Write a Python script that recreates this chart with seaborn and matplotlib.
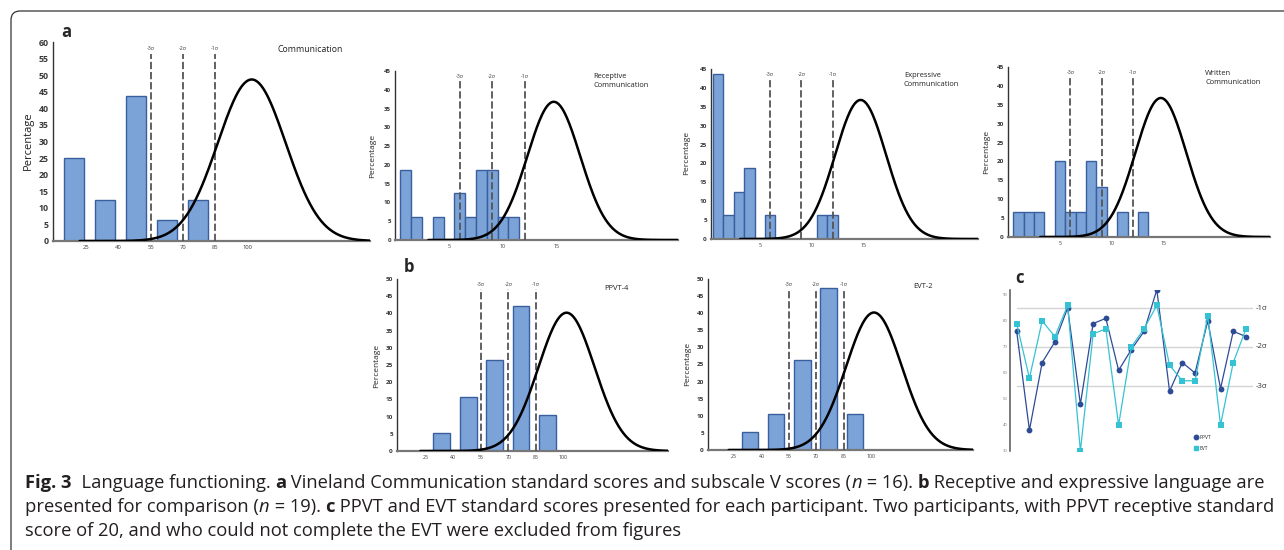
import numpy as np
import matplotlib
matplotlib.use("Agg")
import matplotlib.pyplot as plt
from matplotlib.lines import Line2D
from matplotlib.patches import FancyBboxPatch
from matplotlib.transforms import IdentityTransform
import seaborn as sns

# ---- data ----
# panel a: Vineland standard scores (n = 16), bars on a 14.4 point grid
comm_x = [19.3, 33.7, 48.1, 62.5, 76.9]
comm_pct = [25, 12.5, 43.75, 6.25, 12.5]
# subscale V scores
rec_x = [1, 2, 4, 6, 7, 8, 9, 10, 11]
rec_pct = [18.75, 6.25, 6.25, 12.5, 6.25, 18.75, 18.75, 6.25, 6.25]
exp_x = [1, 2, 3, 4, 6, 11, 12]
exp_pct = [43.75, 6.25, 12.5, 18.75, 6.25, 6.25, 6.25]
wri_x = [1, 2, 3, 5, 6, 7, 8, 9, 11, 13]
wri_pct = [6.67, 6.67, 6.67, 20, 6.67, 6.67, 20, 13.33, 6.67, 6.67]
# panel b (n = 19)
ppvt_x = [33.7, 48.1, 62.5, 76.9, 91.3]
ppvt_pct = [5.26, 15.79, 26.32, 42.11, 10.53]
evt_x = [33.7, 48.1, 62.5, 76.9, 91.3]
evt_pct = [5.26, 10.53, 26.32, 47.37, 10.53]
# panel c: per participant standard scores
participants = list(range(1, 20))
ppvt_scores = [76, 38, 64, 72, 85, 48, 79, 81, 61, 69, 76, 92, 53, 64, 60, 80, 54, 76, 74]
evt_scores = [79, 58, 80, 74, 86, 30, 75, 77, 40, 70, 77, 86, 63, 57, 57, 82, 40, 64, 77]

std_ticks = [25, 40, 55, 70, 85, 100]
v_ticks = [5, 10, 15]
std_sigma = [55, 70, 85]
v_sigma = [6, 9, 12]
sigma_labels = ["-3σ", "-2σ", "-1σ"]

# reference normal curves: mean, sd, peak height, start of drawn curve
comm_curve = (102, 15.8, 48.7, 22)
v_curve = (14.7, 2.45, 36.8, 3.1)
b_curve = (101.7, 15.3, 40.2, 22)

BAR = "#7ba3d8"
EDGE = "#3a5f9f"
TXT = "#3a3a3a"
W, H = 1284, 550

sns.set_style("white")
plt.rcParams["font.family"] = ["Open Sans", "DejaVu Sans"]

fig = plt.figure(figsize=(W / 100, H / 100), dpi=100)


def box(l, t, r, b):
    return [l / W, 1 - b / H, (r - l) / W, (b - t) / H]


def ftext(x, y, s, **kw):
    return fig.text(x / W, 1 - y / H, s, **kw)


def hist_panel(rect, xs, pct, width, xlim, ylim, ystep, xticks, sig_x, curve,
               ysize, xsize):
    ax = fig.add_axes(box(*rect))
    sns.barplot(x=xs, y=pct, native_scale=True, orient="x", width=width,
                color=BAR, saturation=1, edgecolor=EDGE, linewidth=1,
                errorbar=None, ax=ax, zorder=2)
    for xv, lab in zip(sig_x, sigma_labels):
        ax.axvline(xv, ymin=0, ymax=0.94, color="#555555", lw=1.3,
                   ls=(0, (4, 1.6)), zorder=3)
        ax.text(xv, ylim[1] * 0.968, lab, ha="center", va="center",
                fontsize=3.8, color=TXT)
    mu, sd, peak, start = curve
    gx = np.linspace(start, xlim[1], 300)
    sns.lineplot(x=gx, y=peak * np.exp(-0.5 * ((gx - mu) / sd) ** 2),
                 color="black", lw=1.8, ax=ax, zorder=4)
    ax.set_xlim(*xlim)
    ax.set_ylim(*ylim)
    ax.set_yticks(np.arange(0, ylim[1] + 0.1, ystep))
    ax.set_xticks(xticks)
    ax.set_xticklabels([str(t) for t in xticks])
    ax.tick_params(axis="y", length=2, width=0.8, pad=1, labelsize=ysize,
                   colors=TXT)
    ax.tick_params(axis="x", length=0, pad=3, labelsize=xsize, colors=TXT)
    for lab in ax.get_yticklabels():
        lab.set_fontweight("bold")
    ax.set_xlabel("")
    ax.set_ylabel("")
    for side in ["top", "right"]:
        ax.spines[side].set_visible(False)
    ax.spines["left"].set_color("#333333")
    ax.spines["left"].set_linewidth(1.0)
    ax.spines["bottom"].set_color("#777777")
    ax.spines["bottom"].set_linewidth(1.6)
    ax.set_facecolor("none")
    return ax


# panel a
hist_panel((53, 42, 370, 241), comm_x, comm_pct, 0.645, (9.6, 157), (0, 60), 5,
           std_ticks, std_sigma, comm_curve, 6.3, 4.2)
ftext(277, 50, "Communication", fontsize=6.3, va="center", color="#222222")
ftext(28, 141, "Percentage", fontsize=8, rotation=90, ha="center", va="center",
      color="#222222")

hist_panel((395, 71, 678, 240), rec_x, rec_pct, 1.0, (0, 26.2), (0, 45), 5,
           v_ticks, v_sigma, v_curve, 4.4, 3.8)
ftext(593, 81, "Receptive\nCommunication", fontsize=5.4, va="center",
      linespacing=1.35, color="#222222")
ftext(373, 156, "Percentage", fontsize=6, rotation=90, ha="center", va="center",
      color="#222222")

hist_panel((711, 69, 978, 239), exp_x, exp_pct, 1.0, (0.3, 26), (0, 45), 5,
           v_ticks, v_sigma, v_curve, 4.6, 3.8)
ftext(904, 80, "Expressive\nCommunication", fontsize=5.4, va="center",
      linespacing=1.35, color="#222222")
ftext(687, 153, "Percentage", fontsize=6, rotation=90, ha="center", va="center",
      color="#222222")

hist_panel((1008, 67, 1270, 237), wri_x, wri_pct, 1.0, (0, 25.2), (0, 45), 5,
           v_ticks, v_sigma, v_curve, 4.6, 3.8)
ftext(1205, 78, "Written\nCommunication", fontsize=5.4, va="center",
      linespacing=1.35, color="#222222")
ftext(987, 152, "Percentage", fontsize=6, rotation=90, ha="center", va="center",
      color="#222222")

# panel b
hist_panel((397, 279, 668, 451), ppvt_x, ppvt_pct, 0.63, (9.3, 157), (0, 50), 5,
           std_ticks, std_sigma, b_curve, 4.6, 3.8)
ftext(604, 288, "PPVT-4", fontsize=5.4, va="center", color="#222222")
ftext(377, 366, "Percentage", fontsize=6, rotation=90, ha="center", va="center",
      color="#222222")

hist_panel((708, 279, 973, 450), evt_x, evt_pct, 0.63, (10.7, 156), (0, 50), 5,
           std_ticks, std_sigma, b_curve, 4.6, 3.8)
ftext(913, 287, "EVT-2", fontsize=5.4, va="center", color="#222222")
ftext(688, 364, "Percentage", fontsize=6, rotation=90, ha="center", va="center",
      color="#222222")

# panel c
PPVT_C = "#2e4b96"
EVT_C = "#35c3d3"
axc = fig.add_axes(box(1010, 290, 1253, 451))
for v in std_sigma:
    axc.axhline(v, xmin=0.03, xmax=1, color="#d4d4d4", lw=1, zorder=1)
sns.lineplot(x=participants, y=ppvt_scores, color=PPVT_C, marker="o",
             markersize=4.2, markeredgewidth=0, lw=0.9, ax=axc, zorder=3)
sns.lineplot(x=participants, y=evt_scores, color=EVT_C, marker="s",
             markersize=4, markeredgewidth=0, lw=0.9, ax=axc, zorder=4)
axc.set_xlim(0.475, 19.55)
axc.set_ylim(30, 91.9)
axc.set_yticks(range(30, 91, 10))
axc.set_xticks([])
axc.tick_params(axis="y", length=0, pad=2, labelsize=3, colors="#777777")
axc.set_xlabel("")
axc.set_ylabel("")
for side in ["top", "right", "bottom"]:
    axc.spines[side].set_visible(False)
axc.spines["left"].set_color("#555555")
axc.spines["left"].set_linewidth(1.1)
axc.set_facecolor("none")
for v, lab in zip(std_sigma, sigma_labels):
    ftext(1256, 451 - (v - 30) * 2.6, lab, fontsize=5.6, va="center",
          color="#333333")
handles = [Line2D([], [], marker="o", ls="none", color=PPVT_C, markersize=3.2),
           Line2D([], [], marker="s", ls="none", color=EVT_C, markersize=3.2)]
axc.legend(handles, ["PPVT", "EVT"], loc="center left", frameon=False,
           bbox_to_anchor=(1189 / W, 1 - 443 / H), bbox_transform=fig.transFigure,
           fontsize=3.6, handletextpad=0.2, labelspacing=1.2, handlelength=1.0)

# panel letters
ftext(66, 32, "a", fontsize=12, fontweight="bold", ha="center", va="center")
ftext(409, 267, "b", fontsize=12, fontweight="bold", ha="center", va="center")
ftext(1020, 278, "c", fontsize=12, fontweight="bold", ha="center", va="center")

# caption, drawn segment by segment
renderer = fig.canvas.get_renderer()
CAP = 13.2


def caption_line(x, y, segments):
    for s, weight, style in segments:
        t = ftext(x, y, s, fontsize=CAP, fontweight=weight, style=style,
                  va="baseline", ha="left", color="#231f20")
        x += t.get_window_extent(renderer).width


caption_line(25, 488, [
    ("Fig. 3", "bold", "normal"),
    ("  Language functioning. ", "normal", "normal"),
    ("a", "bold", "normal"),
    (" Vineland Communication standard scores and subscale V scores (", "normal", "normal"),
    ("n", "normal", "italic"),
    (" = 16). ", "normal", "normal"),
    ("b", "bold", "normal"),
    (" Receptive and expressive language are", "normal", "normal"),
])
caption_line(25, 512, [
    ("presented for comparison (", "normal", "normal"),
    ("n", "normal", "italic"),
    (" = 19). ", "normal", "normal"),
    ("c", "bold", "normal"),
    (" PPVT and EVT standard scores presented for each participant. Two participants, "
     "with PPVT receptive standard", "normal", "normal"),
])
caption_line(25, 536, [
    ("score of 20, and who could not complete the EVT were excluded from figures",
     "normal", "normal"),
])

# outer rounded frame (clipped at right and bottom like the page crop)
frame = FancyBboxPatch((11, -30), 1300, 569, boxstyle="round,pad=0,rounding_size=9",
                       transform=IdentityTransform(), fill=False, ec="#333333",
                       lw=0.9, figure=fig)
fig.patches.append(frame)

fig.savefig("out.png", dpi=100)
